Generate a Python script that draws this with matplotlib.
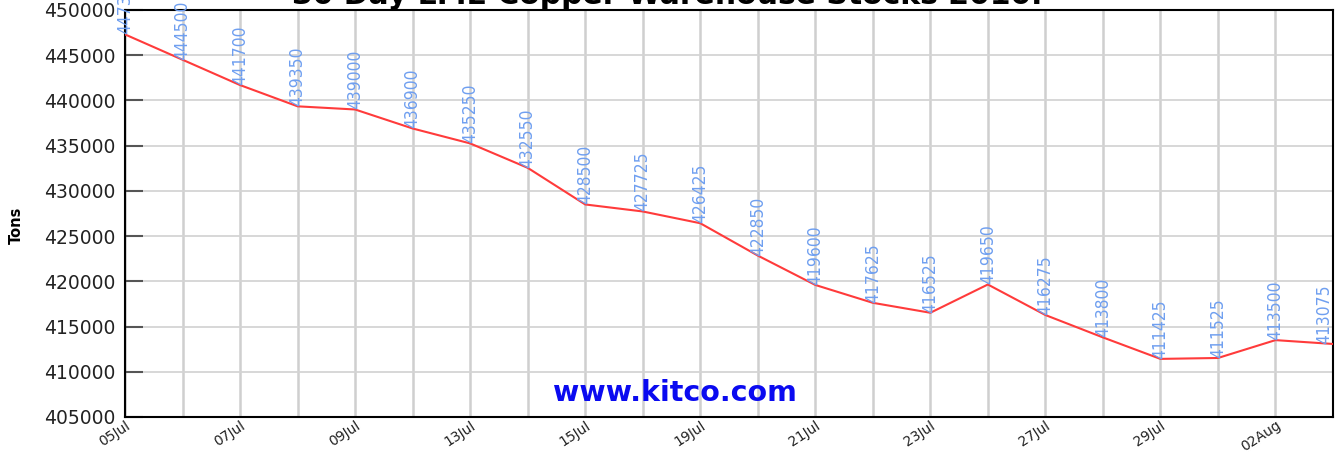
import matplotlib.pyplot as plt
from matplotlib import font_manager
from matplotlib.font_manager import FontProperties

# 30日間のLME銅在庫データ
dates = ["05Jul", "06Jul", "07Jul", "08Jul", "09Jul", "12Jul", "13Jul", "14Jul",
         "15Jul", "16Jul", "19Jul", "20Jul", "21Jul", "22Jul", "23Jul", "26Jul",
         "27Jul", "28Jul", "29Jul", "30Jul", "02Aug", "03Aug"]
stocks = [447300, 444500, 441700, 439350, 439000, 436900, 435250, 432550,
          428500, 427725, 426425, 422850, 419600, 417625, 416525, 419650,
          416275, 413800, 411425, 411525, 413500, 413075]
y_ticks = list(range(405000, 450001, 5000))

# 細いフォントがあれば使う（無ければDejaVu Sans）
narrow = [f for f in font_manager.fontManager.ttflist
          if f.weight in (400, "normal", "regular") and f.style == "normal"
          and ("Narrow" in f.name or "Condensed" in f.name
               or f.stretch in ("condensed", "semi-condensed", "extra-condensed"))]
if narrow:
    label_prop = FontProperties(fname=narrow[0].fname, size=12.5)
else:
    label_prop = FontProperties(family="DejaVu Sans", size=10)

fig = plt.figure(figsize=(13.35, 4.55), dpi=100)
ax = fig.add_axes([125 / 1335, 1 - 417 / 455, 1208 / 1335, 407 / 455])

x = list(range(len(stocks)))
ax.plot(x, stocks, color="#ff3b3b", lw=1.5, zorder=3)

# 各点に値を縦書きで表示
for i, v in enumerate(stocks):
    ha = "right" if i == len(stocks) - 1 else "center"
    ax.text(i, v, str(v), rotation=90, ha=ha, va="bottom", color="#6f9ff0",
            fontproperties=label_prop, clip_on=False, zorder=4)

ax.set_xlim(0, len(stocks) - 1)
ax.set_ylim(405000, 450000)
ax.set_yticks(y_ticks)
ax.set_yticklabels([str(t) for t in y_ticks], fontsize=13.5, color="#222222")
ax.set_xticks(x)
ax.set_xticklabels([d if i % 2 == 0 else "" for i, d in enumerate(dates)],
                   rotation=33, ha="right", rotation_mode="anchor",
                   fontsize=10, color="#222222")

ax.grid(axis="x", color="#cfcfcf", lw=1.8, zorder=0)
ax.grid(axis="y", color="#d4d4d4", lw=1.3, zorder=0)
ax.set_axisbelow(True)
ax.tick_params(axis="y", direction="in", length=13, width=1.5, color="#555555", pad=7)
ax.tick_params(axis="x", length=0, pad=1)
for s in ax.spines.values():
    s.set_color("black")
    s.set_linewidth(1.5)

ax.set_ylabel("Tons", fontsize=10.5, fontweight="bold")
ax.yaxis.set_label_coords(-0.084, 0.47)

ax.text(0.455, 0.058, "www.kitco.com", transform=ax.transAxes, ha="center",
        va="center", color="#0a0af0", fontsize=20.5, fontweight="bold")

fig.text(0.5, 1 - 4 / 455, "30 Day LME Copper Warehouse Stocks 2010.",
         ha="center", va="baseline", fontsize=21.5, fontweight="bold")

fig.savefig("out.png", dpi=100)
